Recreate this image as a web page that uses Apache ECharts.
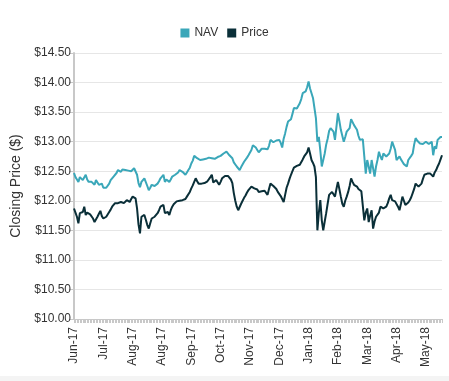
<!DOCTYPE html>
<html>
<head>
<meta charset="utf-8">
<script src="https://cdn.jsdelivr.net/npm/echarts@6/dist/echarts.min.js"></script>
<style>html,body{margin:0;padding:0;background:#fff;}#c{width:449px;height:381px;}</style>
</head>
<body>
<div id="c"></div>
<script>
var tickLabels = ['Jun-17','Jul-17','Aug-17','Aug-17','Sep-17','Oct-17','Nov-17','Dec-17','Jan-18','Feb-18','Mar-18','Apr-18','May-18'];
var labelStep = 20;
var navValues = [
12.47,12.40,12.36,12.32,12.40,12.37,12.35,12.38,12.44,12.36,
12.32,12.34,12.32,12.30,12.27,12.35,12.31,12.27,12.30,12.29,
12.22,12.24,12.22,12.25,12.29,12.35,12.38,12.41,12.44,12.47,
12.52,12.50,12.49,12.53,12.55,12.52,12.49,12.51,12.52,12.50,
12.51,12.55,12.52,12.44,12.30,12.23,12.32,12.35,12.38,12.40,
12.25,12.18,12.22,12.27,12.24,12.25,12.27,12.29,12.33,12.38,
12.41,12.44,12.32,12.36,12.38,12.32,12.36,12.41,12.42,12.44,
12.46,12.48,12.52,12.50,12.49,12.47,12.44,12.48,12.52,12.56,
12.63,12.68,12.76,12.74,12.72,12.70,12.69,12.68,12.70,12.72,
12.71,12.70,12.73,12.75,12.72,12.69,12.71,12.72,12.74,12.77,
12.76,12.79,12.80,12.81,12.83,12.80,12.77,12.75,12.72,12.65,
12.63,12.58,12.55,12.52,12.57,12.60,12.66,12.69,12.73,12.77,
12.80,12.86,12.94,12.92,12.90,12.86,12.82,12.85,12.88,12.90,
12.88,12.86,12.87,12.93,13.03,13.01,12.99,13.00,13.02,13.01,
13.03,12.98,12.90,13.05,13.14,13.25,13.34,13.36,13.38,13.47,
13.57,13.55,13.56,13.59,13.65,13.72,13.82,13.84,13.85,13.92,
14.02,13.90,13.82,13.74,13.72,13.40,13.00,13.08,12.85,12.58,
12.69,12.80,12.95,13.05,13.18,13.23,13.20,13.17,13.03,13.25,
13.48,13.35,13.20,13.10,13.00,13.08,13.17,13.20,13.23,13.38,
13.33,13.28,13.24,13.20,13.10,13.03,13.05,13.04,12.75,12.46,
12.69,12.58,12.46,12.69,12.55,12.41,12.58,12.69,12.83,12.75,
12.69,12.80,12.78,12.75,12.77,12.80,12.88,13.00,12.93,12.86,
12.69,12.72,12.75,12.70,12.66,12.62,12.60,12.58,12.69,12.72,
12.76,12.80,12.95,13.06,13.02,13.00,12.97,12.94,12.96,12.97,
13.00,13.03,12.96,12.94,13.00,12.77,12.92,12.88,13.03,13.06,
13.08,13.08];
var priceValues = [
11.87,11.80,11.73,11.62,11.79,11.77,11.81,11.90,11.76,11.80,
11.79,11.77,11.76,11.70,11.64,11.62,11.73,11.78,11.83,11.74,
11.70,11.73,11.73,11.76,11.81,11.85,11.90,11.93,11.96,11.94,
11.96,11.95,11.98,11.97,11.96,11.99,12.01,11.99,11.98,12.03,
12.07,12.10,12.04,11.87,11.60,11.45,11.73,11.75,11.76,11.68,
11.59,11.53,11.62,11.70,11.72,11.73,11.76,11.79,11.84,11.90,
11.92,11.93,11.79,11.80,11.81,11.76,11.84,11.90,11.94,11.96,
11.99,12.01,12.00,12.02,12.01,12.00,12.03,12.07,12.10,12.15,
12.21,12.26,12.32,12.38,12.33,12.29,12.27,12.29,12.28,12.30,
12.32,12.33,12.35,12.40,12.44,12.31,12.33,12.35,12.31,12.27,
12.32,12.38,12.40,12.42,12.44,12.42,12.41,12.36,12.30,12.13,
12.00,11.90,11.84,11.81,11.95,12.00,12.05,12.09,12.14,12.18,
12.21,12.24,12.24,12.21,12.20,12.19,12.15,12.17,12.16,12.15,
12.17,12.17,12.10,12.20,12.29,12.27,12.25,12.24,12.20,12.15,
12.12,12.08,12.05,11.98,12.10,12.22,12.29,12.37,12.44,12.50,
12.56,12.58,12.59,12.60,12.61,12.63,12.70,12.75,12.78,12.82,
12.90,12.80,12.69,12.64,12.58,12.40,11.50,11.80,12.01,11.67,
11.50,11.65,11.79,11.95,12.10,12.13,12.15,12.11,12.07,12.20,
12.32,12.20,12.07,11.95,11.90,12.00,12.07,12.15,12.25,12.38,
12.32,12.27,12.25,12.24,12.20,12.18,12.16,12.15,11.67,11.80,
11.87,11.64,11.75,11.84,11.53,11.65,11.73,11.70,11.80,11.90,
11.88,11.87,11.89,11.90,11.96,12.04,12.10,12.01,12.00,11.99,
11.98,11.90,11.84,11.95,12.07,12.00,11.93,11.90,11.97,12.01,
12.06,12.13,12.20,12.29,12.26,12.24,12.27,12.29,12.37,12.44,
12.45,12.46,12.45,12.46,12.46,12.41,12.48,12.52,12.58,12.63,
12.70,12.77];

// trading-day categories starting 1 Jun 2017
var categories = [];
(function(){
  var d = new Date(Date.UTC(2017,5,1));
  while (categories.length < navValues.length) {
    var wd = d.getUTCDay();
    if (wd !== 0 && wd !== 6) categories.push(d.toISOString().slice(0,10));
    d.setUTCDate(d.getUTCDate()+1);
  }
})();

var chart = echarts.init(document.getElementById('c'), null, {renderer:'canvas'});
var font = 'Liberation Sans, Arial, sans-serif';
chart.setOption({
  animation: false,
  textStyle: {fontFamily: font},
  color: ['#3aa7b9', '#0a2f38'],
  legend: {
    top: 22, left: 'center',
    icon: 'rect', itemWidth: 9, itemHeight: 9, itemGap: 9,
    textStyle: {fontSize: 12, color: '#333', fontFamily: font},
    data: ['NAV', 'Price']
  },
  grid: {left: 74, right: 7, top: 53, bottom: 62},
  xAxis: {
    type: 'category',
    boundaryGap: false,
    data: categories,
    axisLine: {lineStyle: {color: '#c8c8c8', width: 1}},
    axisTick: {show: true, interval: 0, length: 4, lineStyle: {color: '#c8c8c8'}},
    axisLabel: {
      rotate: 90, margin: 8, fontSize: 12, color: '#333', fontFamily: font,
      interval: function(i){ return i % labelStep === 0; },
      formatter: function(v, i){ return tickLabels[Math.round(i / labelStep)] || ''; }
    },
    splitLine: {show: false}
  },
  yAxis: {
    type: 'value',
    min: 10, max: 14.5, interval: 0.5,
    name: 'Closing Price ($)',
    nameLocation: 'middle',
    nameGap: 47,
    nameTextStyle: {fontSize: 14, color: '#333', fontFamily: font},
    axisLine: {show: true, lineStyle: {color: '#c8c8c8', width: 2}},
    axisTick: {show: true, length: 5, lineStyle: {color: '#c8c8c8'}},
    axisLabel: {margin: 3, fontSize: 12, color: '#333', fontFamily: font,
      formatter: function(v){ return '$' + v.toFixed(2); }},
    splitLine: {lineStyle: {color: '#e6e6e6', width: 1}}
  },
  series: [
    {name: 'NAV', type: 'line', data: navValues, symbol: 'none', lineStyle: {width: 2}},
    {name: 'Price', type: 'line', data: priceValues, symbol: 'none', lineStyle: {width: 2}}
  ],
  graphic: [{type: 'rect', left: 0, bottom: 0, shape: {width: 449, height: 5}, style: {fill: '#f4f4f4'}, silent: true}]
});
</script>
</body>
</html>
